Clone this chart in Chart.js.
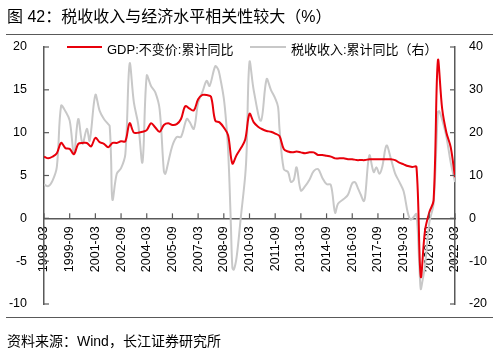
<!DOCTYPE html>
<html><head><meta charset="utf-8">
<script src="https://cdn.jsdelivr.net/npm/chart.js@4.4.0/dist/chart.umd.min.js"></script>
<style>
html,body{margin:0;padding:0;background:#fff;width:501px;height:354px;overflow:hidden;font-family:"Liberation Sans","Noto Sans CJK SC",sans-serif;color:#000;}
#wrap{position:relative;width:501px;height:354px;}
#title{position:absolute;left:7px;top:3px;font-size:16px;white-space:nowrap;}
#tline{position:absolute;left:6px;top:34px;width:487px;border-top:1.5px solid #595959;}
#bline{position:absolute;left:6px;top:317px;width:487px;border-top:1.5px solid #595959;}
#src{position:absolute;left:7px;top:330px;font-size:14px;white-space:nowrap;}
canvas{position:absolute;left:0;top:0;}
.lg{position:absolute;top:39px;font-size:13px;white-space:nowrap;}
.sw{position:absolute;height:2px;top:46px;}
</style></head>
<body><div id="wrap">
<canvas id="c" width="501" height="354"></canvas>
<div id="title">图 42：税收收入与经济水平相关性较大（%）</div>
<div id="tline"></div>
<div class="sw" style="left:67px;width:35px;background:#e8000b;"></div>
<div class="lg" style="left:107px;">GDP:不变价:累计同比</div>
<div class="sw" style="left:250px;width:36px;background:#c8c8c8;"></div>
<div class="lg" style="left:291px;">税收收入:累计同比（右）</div>
<div id="bline"></div>
<div id="src">资料来源：Wind，长江证券研究所</div>
</div>
<script>
const tickLabels = ['1998-03','1999-09','2001-03','2002-09','2004-03','2005-09','2007-03','2008-09','2010-03','2011-09','2013-03','2014-09','2016-03','2017-09','2019-03','2020-09','2022-03'];
const gdpSeriesName = 'GDP:不变价:累计同比';
const taxSeriesName = '税收收入:累计同比（右）';
// quarterly GDP cumulative YoY, 1998-03 .. 2022-03
const gdpValues = [
 7.2,7.0,7.2,7.6, 8.8,8.2,8.1,7.5, 8.7,8.8,8.8,8.4, 9.4,8.9,8.7,8.3,
 8.8,8.8,9.0,9.0, 11.1,10.0,10.0,10.1, 10.3,11.1,10.6,10.1, 10.9,11.1,10.9,11.0,
 11.6,13.1,12.8,12.6, 13.9,14.4,14.4,14.2, 11.4,11.2,10.6,9.7, 6.4,7.4,8.2,9.2,
 12.2,11.2,10.7,10.4, 10.2,10.1,9.9,9.6, 8.1,7.8,7.7,7.8, 7.7,7.6,7.7,7.7,
 7.4,7.4,7.3,7.2, 7.0,7.0,7.0,6.9, 6.9,6.8,6.8,6.8, 6.9,6.9,6.9,6.9,
 6.9,6.9,6.8,6.5, 6.3,6.1,6.0,6.0, -6.8,-1.4,0.7,2.1, 18.4,12.8,10.0,8.3,
 4.8];
const taxDates = ['1998-03','1998-06','1998-09','1998-12','1999-03','1999-06','1999-09','1999-12','2000-03','2000-06','2000-09','2000-11','2001-03','2001-06','2001-09','2001-12','2002-01','2002-02','2002-03','2002-06','2002-09','2002-12','2003-03','2003-06','2003-09','2003-12','2004-03','2004-06','2004-09','2004-12','2005-03','2005-04','2005-06','2005-09','2005-12','2006-03','2006-07','2006-09','2006-12','2007-03','2007-06','2007-09','2007-11','2008-03','2008-05','2008-06','2008-09','2008-11','2008-12','2009-01','2009-02','2009-03','2009-04','2009-06','2009-09','2009-12','2010-01','2010-03','2010-06','2010-11','2011-03','2011-06','2011-09','2011-11','2011-12','2012-03','2012-06','2012-08','2012-10','2012-12','2013-03','2013-06','2013-09','2013-12','2014-03','2014-06','2014-09','2014-12','2015-03','2015-05','2015-09','2015-12','2016-03','2016-05','2016-07','2016-09','2016-11','2016-12','2017-03','2017-06','2017-08','2017-10','2017-12','2018-03','2018-06','2018-09','2018-12','2019-03','2019-06','2019-08','2019-10','2019-12','2020-02','2020-03','2020-04','2020-06','2020-09','2020-12','2021-03','2021-04','2021-06','2021-09','2021-12','2022-03'];
const taxValues = [7.9,7.5,8.8,12.0,26.3,25.0,22.8,15.2,23.2,17.4,20.9,18.1,28.8,25.1,23.2,22.0,21.6,14.0,4.3,10.4,11.7,15.0,36.1,27.0,22.0,13.1,33.3,30.9,29.4,25.5,11.0,10.4,13.0,17.0,19.0,19.0,23.2,22.5,20.9,27.0,29.5,32.1,30.9,35.5,34.8,33.6,28.0,21.0,16.0,8.0,-2.0,-11.5,-12.0,-9.0,0.5,10.0,15.8,36.5,29.8,22.8,32.5,30.0,28.0,26.0,21.0,11.5,10.8,8.5,9.0,11.9,6.5,7.5,9.0,11.0,11.5,9.5,8.0,7.8,1.3,3.4,4.5,5.5,8.2,8.4,7.0,5.5,4.0,5.0,14.7,10.8,11.9,10.4,12.0,17.0,14.0,10.5,8.5,6.3,1.2,-0.3,0.3,1.0,-11.0,-16.5,-15.0,-11.0,-1.0,3.5,24.8,25.0,23.0,19.0,13.0,8.5];

function monthIndex(s){const [y,m]=s.split('-').map(Number);return (y-1998)*12+(m-3);}
const gdpData = gdpValues.map((v,i)=>({x:i*3,y:v}));
const taxData = taxDates.map((d,i)=>({x:monthIndex(d),y:taxValues[i]}));

const AXIS='#595959';
const tickMarks={id:'tickMarks',afterDraw(chart){
  const ctx=chart.ctx,a=chart.chartArea,{x,y,y1}=chart.scales;
  ctx.save();ctx.strokeStyle=AXIS;ctx.lineWidth=1.2;
  const ln=(x0,y0,x2,y2)=>{ctx.beginPath();ctx.moveTo(x0,y0);ctx.lineTo(x2,y2);ctx.stroke();};
  y.ticks.forEach(t=>{const p=y.getPixelForValue(t.value);ln(a.left,p,a.left+5,p);});
  y1.ticks.forEach(t=>{const p=y1.getPixelForValue(t.value);ln(a.right-5,p,a.right,p);});
  const y0=y.getPixelForValue(0);
  x.ticks.forEach(t=>{const p=x.getPixelForValue(t.value);ln(p,y0,p,y0-5);});
  ctx.restore();
}};

new Chart(document.getElementById('c'),{
  type:'line',
  data:{datasets:[
    {label:gdpSeriesName,data:gdpData,yAxisID:'y',borderColor:'#e8000b',borderWidth:2,pointRadius:0,tension:0.35,fill:false},
    {label:taxSeriesName,data:taxData,yAxisID:'y1',borderColor:'#c8c8c8',borderWidth:2,pointRadius:0,tension:0.35,fill:false}
  ]},
  options:{
    responsive:false,animation:false,devicePixelRatio:1,
    layout:{padding:{top:47,bottom:50,left:0,right:0}},
    plugins:{legend:{display:false},tooltip:{enabled:false}},
    scales:{
      x:{type:'linear',min:0,max:288,position:{y:0},
        afterBuildTicks:s=>{s.ticks=tickLabels.map((_,i)=>({value:i*18}));},
        ticks:{autoSkip:false,minRotation:90,maxRotation:90,padding:8,color:'#000',font:{family:'Liberation Sans',size:12.5},
          callback:(v)=>tickLabels[Math.round(v/18)]},
        grid:{display:false,drawTicks:false},border:{display:true,color:AXIS,width:1.5}},
      y:{position:'left',min:-10,max:20,
        ticks:{stepSize:5,padding:17,color:'#000',font:{family:'Liberation Sans',size:12.5}},
        afterFit:s=>{s.width=44;},
        grid:{display:false,drawTicks:false},border:{display:true,color:AXIS,width:1.5}},
      y1:{position:'right',min:-20,max:40,
        ticks:{stepSize:10,padding:14,color:'#000',font:{family:'Liberation Sans',size:12.5}},
        afterFit:s=>{s.width=46;},
        grid:{display:false,drawTicks:false},border:{display:true,color:AXIS,width:1.5}}
    }
  },
  plugins:[tickMarks]
});
</script>
</body></html>
